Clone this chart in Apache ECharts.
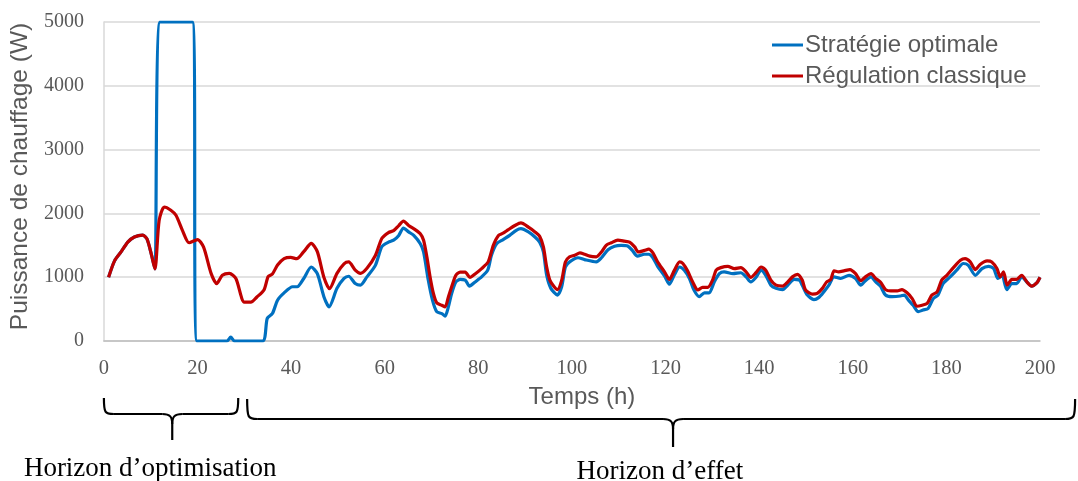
<!DOCTYPE html>
<html>
<head>
<meta charset="utf-8">
<script src="https://cdn.jsdelivr.net/npm/echarts@6/dist/echarts.min.js"></script>
<style>
html,body{margin:0;padding:0;background:#fff;}
#main{width:1078px;height:481px;}
</style>
</head>
<body>
<div id="main"></div>
<script>
// Time (h) and power (W) samples
const redHours = [1,2.3,3.7,5.1,6.5,8.3,9.2,10.1,10.9,11.8,12.9,14.3,15.4,16.8,18.2,20,21.3,22.9,24.1,25.3,26.8,28.2,30,31.4,32.7,34.2,35.1,36,37.1,38.5,39.9,41.2,42.7,44.3,45.6,47,48.2,49.8,51.3,52.3,53.7,54.8,56.2,58,59.4,60.8,61.9,63,64,65.1,66.5,67.6,68.3,69,69.7,70.4,71.1,72.2,72.9,73.6,74.3,75.2,76.1,77.2,78.2,79.3,80.7,82.1,83.2,84.3,85.3,86.4,87.8,89.1,90.7,92.1,93.1,93.9,94.6,95.3,96.2,96.9,97.8,98.6,99.5,100.6,101.7,102.7,103.8,105.2,106.3,107.3,108.4,109.8,111.2,112.3,113.4,114.2,115.5,116.4,117.3,118.3,119.8,120.8,121.9,123,123.7,124.7,125.8,126.9,127.9,129,130.1,130.8,131.8,133.3,134.7,136.1,137.2,138.2,139.3,140.4,141.4,142.5,143.6,145,146.1,147.1,148.2,149.2,149.9,151.4,152.4,153.5,154.4,155.3,156,157,158.1,159.4,160.6,161.7,162.7,163.9,164.9,165.9,167,168.1,169.5,170.5,171.6,172.7,173.7,174.8,175.9,176.9,178,179,180.1,181.5,183,184,185.1,186.2,187.2,188.7,189.7,190.8,191.5,192.2,193,194,195,196.1,197.2,198.2,199.3,200];
const redValues = [1000,1260,1400,1550,1630,1660,1600,1370,1130,1890,2100,2050,1970,1730,1540,1590,1470,1060,900,1030,1060,980,610,610,690,800,1010,1050,1190,1290,1310,1290,1400,1530,1400,1000,820,1060,1210,1240,1110,1060,1140,1340,1610,1700,1730,1810,1880,1810,1745,1680,1580,1320,1000,745,600,560,535,690,850,1030,1080,1080,995,1050,1135,1240,1500,1655,1690,1745,1810,1850,1785,1710,1640,1475,1160,950,850,805,950,1240,1320,1345,1380,1360,1330,1320,1395,1500,1540,1580,1565,1550,1475,1395,1420,1440,1380,1240,1080,965,1110,1240,1215,1100,925,800,840,840,965,1110,1150,1170,1135,1150,1085,995,1070,1160,1110,955,875,860,925,1005,1045,955,800,735,745,825,925,965,1100,1085,1100,1120,1055,945,1005,1055,980,925,805,785,785,805,755,665,545,560,590,720,770,955,1030,1150,1265,1290,1240,1120,1200,1255,1240,1135,1005,1085,875,965,965,1030,925,860,910,1000];

const blueHours = [1,2.3,3.7,5.1,6.5,8.3,9.2,10.1,10.9,12,18.9,19.9,26.3,27.1,27.9,33.9,34.9,36,37.1,38.5,40.3,41.3,42.7,44.3,45.6,47,48.1,49.8,51.3,52.3,53.7,54.8,56.2,58,59.4,60.8,61.9,63,64,65.1,66.2,67.6,68.3,69.3,70.2,71.1,72.2,72.9,73.6,74.3,75.2,76.1,77.2,78.1,79.3,80.7,82,82.8,83.9,85.3,86.7,88.1,89.1,90.7,92.1,93.1,93.9,94.6,95.5,96.9,97.8,98.6,99.5,101.3,102.7,105.2,106.3,107.7,109.1,110.5,111.9,112.9,114,115.5,116.4,117.3,118.3,119.8,120.8,121.9,123,124,125.1,126.1,127.2,128.3,129.3,130.4,131.5,132.5,134.4,136.1,137.2,138.2,139.3,140.4,141.4,142.5,143.6,145,146.1,147.5,148.6,149.2,150.3,151.7,152.7,153.8,154.9,156,157.4,159.2,160.6,161.7,162.7,163.9,164.9,165.9,167,168.4,170.2,171,171.9,172.9,174,175,176.1,177.2,178.2,179.3,180.8,182.2,183.6,184.7,186.2,187.6,189,190.1,191,191.9,192.9,194,195,196.1,197.2,198.2,199.3,200];
const blueValues = [1000,1260,1400,1550,1630,1660,1600,1370,1130,5000,5000,0,0,60,0,0,355,430,640,755,850,850,980,1160,1055,695,535,825,980,1015,900,875,1005,1185,1480,1550,1580,1655,1770,1710,1655,1525,1395,955,640,460,430,390,535,745,925,965,955,860,925,1005,1110,1345,1525,1590,1655,1735,1760,1710,1630,1550,1395,1030,825,720,850,1160,1240,1305,1275,1240,1305,1430,1485,1500,1490,1420,1330,1360,1360,1305,1170,1015,890,1040,1160,1110,980,795,695,755,755,925,1055,1085,1055,1070,1005,925,995,1110,1030,875,825,805,875,965,955,875,720,650,680,770,875,1005,980,1030,980,875,945,1005,925,860,720,695,705,720,640,560,460,485,510,665,720,900,1005,1110,1215,1185,1030,1135,1170,1135,980,1030,805,900,900,1005,925,860,910,1000];

const seriesNames = ['Stratégie optimale', 'Régulation classique'];
const xTicks = [0,20,40,60,80,100,120,140,160,180,200];
const yTicks = [0,1000,2000,3000,4000,5000];
// Annotation brace ranges (hours: start, end, tip) and labels
const braceRanges = [[0, 28.7, 14.6], [30.6, 207.5, 121.6]];
const braceLabels = ['Horizon d’optimisation', 'Horizon d’effet'];
const braceLabelCenters = [9.9, 118.8];

function pairs(xs, ys){ return xs.map((x,i)=>[x, ys[i]]); }

const chart = echarts.init(document.getElementById('main'), null, {renderer:'canvas'});
const serif = '"Liberation Serif","Times New Roman",serif';
const sans = '"Liberation Sans",Arial,sans-serif';

chart.setOption({
  animation:false,
  backgroundColor:'#ffffff',
  grid:{left:101, right:38, top:22, bottom:140, containLabel:false},
  legend:{
    orient:'vertical', left:767, top:28,
    icon:'rect', itemWidth:31, itemHeight:3, itemGap:7,
    textStyle:{fontFamily:sans, fontSize:24, color:'#595959', padding:[0,0,0,-3], lineHeight:24},
    data:seriesNames
  },
  xAxis:{
    type:'value', min:xTicks[0], max:xTicks[xTicks.length-1], interval:20,
    name:'Temps (h)', nameLocation:'middle', nameGap:44,
    nameTextStyle:{fontFamily:sans, fontSize:24, color:'#595959', padding:[0,0,0,20]},
    axisLine:{show:true, lineStyle:{color:'#bfbfbf', width:1.5}},
    axisTick:{show:false},
    splitLine:{show:false},
    axisLabel:{fontFamily:serif, fontSize:20.5, color:'#595959', margin:17, formatter:v=>String(v)}
  },
  yAxis:{
    type:'value', min:yTicks[0], max:yTicks[yTicks.length-1], interval:1000,
    name:'Puissance de chauffage (W)', nameLocation:'middle', nameGap:60,
    nameTextStyle:{fontFamily:sans, fontSize:24.5, color:'#595959', padding:[0,0,0,10]},
    axisLine:{show:true, lineStyle:{color:'#d9d9d9', width:1.5}},
    axisTick:{show:false},
    splitLine:{show:true, lineStyle:{color:'#d9d9d9', width:1.5}},
    axisLabel:{fontFamily:serif, fontSize:20, color:'#595959', margin:20, formatter:v=>String(v)}
  },
  series:[
    {name:seriesNames[0], type:'line', data:pairs(blueHours, blueValues), showSymbol:false, smooth:0.25,
     lineStyle:{color:'#0070c0', width:3.2}, itemStyle:{color:'#0070c0'}, z:2},
    {name:seriesNames[1], type:'line', data:pairs(redHours, redValues), showSymbol:false, smooth:0.25,
     lineStyle:{color:'#c00000', width:3.2}, itemStyle:{color:'#c00000'}, z:3}
  ]
});

try {
  const yBase = chart.convertToPixel({gridIndex:0}, [0,0])[1];
  const px = h => chart.convertToPixel({gridIndex:0}, [h,0])[0];
  const braceGeom = [[57, 73, 99], [58, 78, 106]];
  const labelY = [128, 131];
  const st = {stroke:'#000', lineWidth:2.2, fill:null};
  const gfx = [];
  braceRanges.forEach((br, i)=>{
    const x1 = px(br[0]), x2 = px(br[1]), xc = px(br[2]);
    const g = braceGeom[i];
    const yT = yBase+g[0], yM = yBase+g[1], yB = yBase+g[2];
    const r = 10;
    gfx.push({type:'bezierCurve', silent:true, shape:{x1:x1,y1:yT,x2:x1+r,y2:yM,cpx1:x1,cpy1:yM-1,cpx2:x1+1,cpy2:yM}, style:st});
    gfx.push({type:'line', silent:true, shape:{x1:x1+r,y1:yM,x2:xc-r,y2:yM}, style:st});
    gfx.push({type:'bezierCurve', silent:true, shape:{x1:xc-r,y1:yM,x2:xc,y2:yM+10,cpx1:xc-2,cpy1:yM,cpx2:xc,cpy2:yM+3}, style:st});
    gfx.push({type:'line', silent:true, shape:{x1:xc,y1:yM+10,x2:xc,y2:yB}, style:st});
    gfx.push({type:'bezierCurve', silent:true, shape:{x1:xc+r,y1:yM,x2:xc,y2:yM+10,cpx1:xc+2,cpy1:yM,cpx2:xc,cpy2:yM+3}, style:st});
    gfx.push({type:'line', silent:true, shape:{x1:xc+r,y1:yM,x2:x2-r,y2:yM}, style:st});
    gfx.push({type:'bezierCurve', silent:true, shape:{x1:x2,y1:yT,x2:x2-r,y2:yM,cpx1:x2,cpy1:yM-1,cpx2:x2-1,cpy2:yM}, style:st});
    gfx.push({type:'text', silent:true, x: px(braceLabelCenters[i]), y: yBase+labelY[i],
      style:{text:braceLabels[i], font:'27px '+serif, fill:'#000', align:'center', verticalAlign:'middle'}});
  });
  chart.setOption({graphic:{elements:gfx}});
} catch(e) { console.log(e); }
</script>
</body>
</html>
